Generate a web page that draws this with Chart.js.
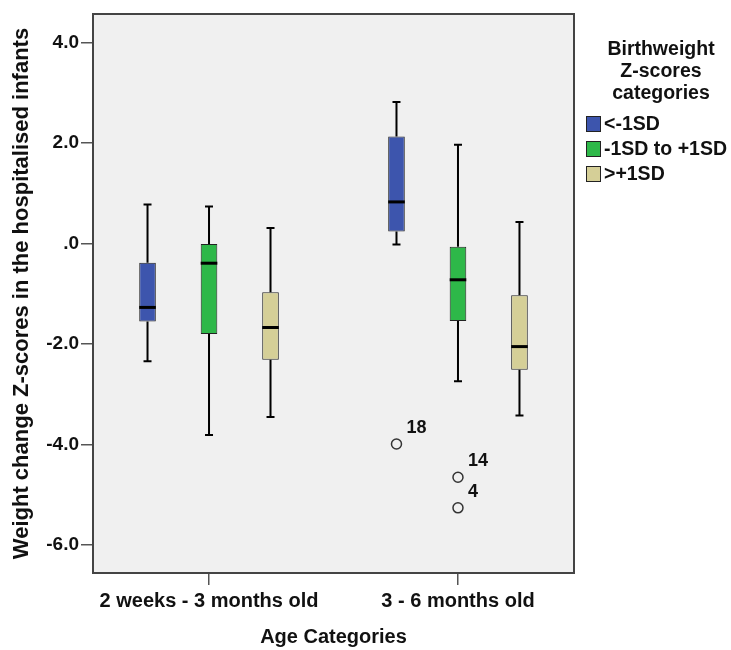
<!DOCTYPE html>
<html>
<head>
<meta charset="utf-8">
<script src="https://cdn.jsdelivr.net/npm/chart.js@4.4.1/dist/chart.umd.min.js"></script>
<style>
  html, body { margin: 0; padding: 0; background: #ffffff; }
  #wrap { width: 731px; height: 650px; position: relative; }
</style>
</head>
<body>
<div id="wrap"><canvas id="boxChart"></canvas></div>
<script>
const categories = ['2 weeks - 3 months old', '3 - 6 months old'];
const seriesNames = ['<-1SD', '-1SD to +1SD', '>+1SD'];

// one row per series, one column per age category
const whiskerLowValues = [[-2.34, -0.02], [-3.81, -2.74], [-3.45, -3.42]];
const q1Values = [[-1.55, 0.24], [-1.80, -1.54], [-2.31, -2.51]];
const medianValues = [[-1.27, 0.83], [-0.39, -0.72], [-1.67, -2.05]];
const q3Values = [[-0.38, 2.13], [-0.01, -0.06], [-0.97, -1.03]];
const whiskerHighValues = [[0.78, 2.82], [0.74, 1.97], [0.31, 0.43]];

// outliers: series index, category index, value, case label
const outlierSeries = [0, 1, 1];
const outlierCategory = [1, 1, 1];
const outlierValues = [-3.99, -4.65, -5.26];
const outlierLabels = ['18', '14', '4'];

const yTickValues = [4, 2, 0, -2, -4, -6];
const yTickLabels = ['4.0', '2.0', '.0', '-2.0', '-4.0', '-6.0'];

const seriesColors = ['#3d55ad', '#2eb849', '#d5cf97'];
const fontFamily = "'Liberation Sans', Arial, sans-serif";
const tickFont = { family: fontFamily, size: 19, weight: 'bold' };
const xFont = { family: fontFamily, size: 20, weight: 'bold' };
const yTitleFont = { family: fontFamily, size: 22, weight: 'bold' };

const boxPlugin = {
    id: 'boxPlugin',
    beforeDatasetsDraw(chart) {
        const { ctx, chartArea: a } = chart;
        ctx.save();
        ctx.fillStyle = '#f0f0f0';
        ctx.fillRect(a.left, a.top, a.right - a.left, a.bottom - a.top);

        // whiskers behind the boxes
        const y = chart.scales.y;
        ctx.strokeStyle = '#000';
        ctx.lineWidth = 2;
        chart.data.datasets.forEach((ds, s) => {
            chart.getDatasetMeta(s).data.forEach((bar, c) => {
                const cap = 4;
                const yHigh = y.getPixelForValue(whiskerHighValues[s][c]);
                const yLow = y.getPixelForValue(whiskerLowValues[s][c]);
                const yQ3 = y.getPixelForValue(q3Values[s][c]);
                const yQ1 = y.getPixelForValue(q1Values[s][c]);
                ctx.beginPath();
                ctx.moveTo(bar.x, yQ3); ctx.lineTo(bar.x, yHigh);
                ctx.moveTo(bar.x - cap, yHigh); ctx.lineTo(bar.x + cap, yHigh);
                ctx.moveTo(bar.x, yQ1); ctx.lineTo(bar.x, yLow);
                ctx.moveTo(bar.x - cap, yLow); ctx.lineTo(bar.x + cap, yLow);
                ctx.stroke();
            });
        });
        ctx.restore();
    },
    afterDatasetsDraw(chart) {
        const { ctx, chartArea: a } = chart;
        const y = chart.scales.y;
        ctx.save();

        // medians
        ctx.strokeStyle = '#000';
        ctx.lineWidth = 3;
        chart.data.datasets.forEach((ds, s) => {
            chart.getDatasetMeta(s).data.forEach((bar, c) => {
                const ym = y.getPixelForValue(medianValues[s][c]);
                ctx.beginPath();
                ctx.moveTo(bar.x - bar.width / 2, ym);
                ctx.lineTo(bar.x + bar.width / 2, ym);
                ctx.stroke();
            });
        });

        // outliers
        ctx.font = 'bold 18px ' + fontFamily;
        ctx.textAlign = 'left';
        ctx.textBaseline = 'alphabetic';
        outlierValues.forEach((v, i) => {
            const bar = chart.getDatasetMeta(outlierSeries[i]).data[outlierCategory[i]];
            const py = y.getPixelForValue(v);
            ctx.beginPath();
            ctx.arc(bar.x, py, 5, 0, Math.PI * 2);
            ctx.strokeStyle = '#333';
            ctx.lineWidth = 1.5;
            ctx.stroke();
            ctx.fillStyle = '#111';
            ctx.fillText(outlierLabels[i], bar.x + 10, py - 11);
        });

        // plot frame
        ctx.strokeStyle = '#444';
        ctx.lineWidth = 2;
        ctx.strokeRect(a.left, a.top, a.right - a.left, a.bottom - a.top);
        ctx.restore();
    },
    afterDraw(chart) {
        // legend on the right
        const { ctx, chartArea: a } = chart;
        ctx.save();
        ctx.fillStyle = '#111';
        ctx.font = 'bold 19.5px ' + fontFamily;
        ctx.textAlign = 'center';
        ctx.textBaseline = 'middle';
        const cx = a.right + 87;
        ['Birthweight', 'Z-scores', 'categories'].forEach((t, i) => {
            ctx.fillText(t, cx, a.top + 36 + i * 22);
        });
        ctx.textAlign = 'left';
        chart.data.datasets.forEach((ds, s) => {
            const rowY = a.top + 110 + s * 25;
            ctx.fillStyle = ds.backgroundColor;
            ctx.fillRect(a.right + 12, rowY - 8, 15, 16);
            ctx.strokeStyle = '#222';
            ctx.lineWidth = 1;
            ctx.strokeRect(a.right + 12.5, rowY - 7.5, 14, 15);
            ctx.fillStyle = '#111';
            ctx.fillText(ds.label, a.right + 30, rowY + 1);
        });
        ctx.restore();
    }
};

const datasets = seriesNames.map((name, s) => ({
    label: name,
    data: categories.map((cat, c) => ({ x: c, y: [q1Values[s][c], q3Values[s][c]] })),
    backgroundColor: seriesColors[s],
    borderColor: '#222',
    borderWidth: 1,
    borderSkipped: false,
    categoryPercentage: 0.741,
    barPercentage: 0.27
}));

new Chart(document.getElementById('boxChart').getContext('2d'), {
    type: 'bar',
    data: { datasets: datasets },
    options: {
        responsive: true,
        maintainAspectRatio: false,
        animation: false,
        layout: { padding: { top: 14, right: 157, left: 0, bottom: 0 } },
        plugins: {
            legend: { display: false },
            tooltip: { enabled: false }
        },
        scales: {
            x: {
                type: 'linear',
                min: -0.466,
                max: 1.466,
                offset: false,
                afterBuildTicks: scale => { scale.ticks = categories.map((c, i) => ({ value: i })); },
                afterFit: scale => { scale.height = 77; },
                grid: { offset: false, drawOnChartArea: false, drawTicks: true, tickLength: 12, color: '#555', lineWidth: 1.5 },
                border: { display: false },
                ticks: {
                    callback: v => categories[v],
                    color: '#111',
                    font: xFont,
                    padding: 4,
                    maxRotation: 0,
                    autoSkip: false
                },
                title: { display: true, text: 'Age Categories', color: '#111', font: xFont, padding: { top: 0, bottom: 1 } }
            },
            y: {
                min: -6.557,
                max: 4.571,
                afterBuildTicks: scale => { scale.ticks = yTickValues.map(v => ({ value: v })); },
                afterFit: scale => { scale.width = 93; },
                grid: { drawOnChartArea: false, drawTicks: true, tickLength: 12, color: '#555', lineWidth: 1.5 },
                border: { display: false },
                ticks: {
                    callback: v => yTickLabels[yTickValues.indexOf(v)],
                    color: '#111',
                    font: tickFont,
                    padding: 2
                },
                title: {
                    display: true,
                    text: 'Weight change Z-scores in the hospitalised infants',
                    color: '#111',
                    font: yTitleFont,
                    padding: { top: 9, bottom: 0 }
                }
            }
        }
    },
    plugins: [boxPlugin]
});
</script>
</body>
</html>
